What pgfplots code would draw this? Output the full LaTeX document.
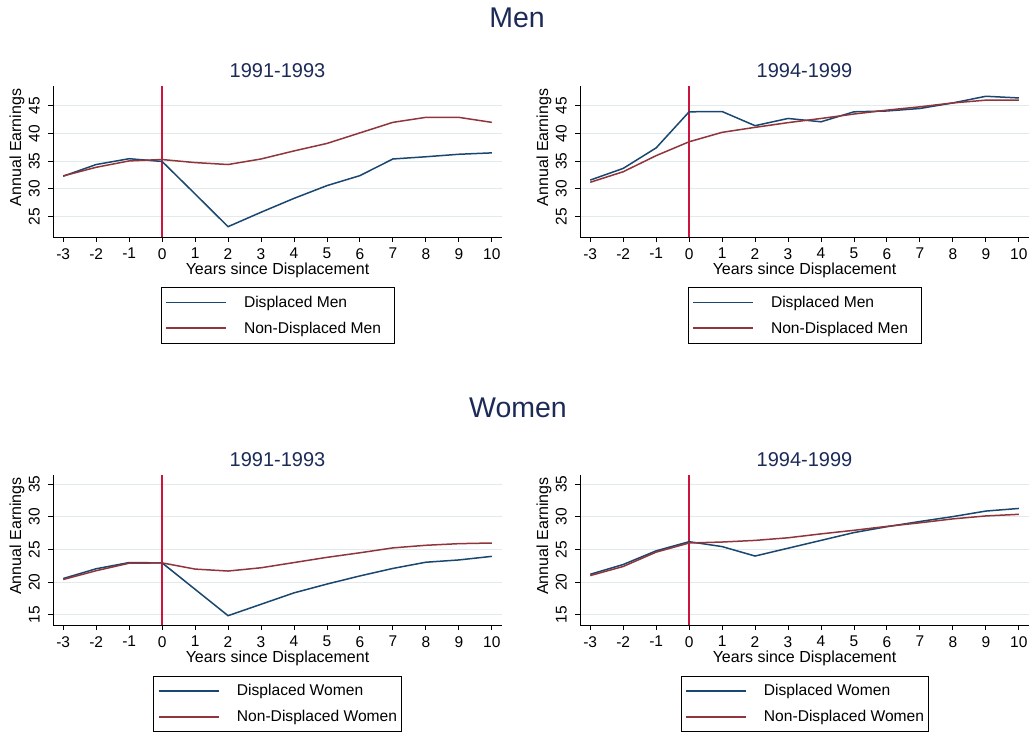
\documentclass[border=0pt]{standalone}
\usepackage{pgfplots}
\usepackage{pgfplotstable}
\pgfplotsset{compat=1.18}
\usepackage{fontspec}
\setmainfont{Liberation Sans}
\definecolor{sblue}{RGB}{26,71,111}
\definecolor{sred}{RGB}{144,53,59}
\definecolor{vline}{RGB}{205,20,60}
\definecolor{ttl}{RGB}{28,42,88}
\definecolor{grd}{RGB}{225,235,238}

\pgfplotstableread{
x dm nm
-3 32.3 32.35
-2 34.4 33.9
-1 35.45 35.05
0 34.95 35.3
1 29.1 34.75
2 23.2 34.4
3 25.8 35.4
4 28.3 36.85
5 30.6 38.2
6 32.4 40.1
7 35.4 42.0
8 35.8 42.9
9 36.25 42.9
10 36.5 42.0
}\menA
\pgfplotstableread{
x dm nm
-3 31.6 31.2
-2 33.7 33.1
-1 37.4 36.0
0 43.9 38.5
1 43.95 40.2
2 41.4 41.1
3 42.7 41.95
4 42.1 42.7
5 43.9 43.5
6 44.05 44.2
7 44.5 44.8
8 45.5 45.5
9 46.7 46.0
10 46.4 46.0
}\menB
\pgfplotstableread{
x dm nm
-3 20.55 20.4
-2 22.05 21.75
-1 23.0 22.9
0 22.95 22.95
1 18.9 22.0
2 14.85 21.7
3 16.6 22.2
4 18.35 23.0
5 19.7 23.8
6 20.95 24.5
7 22.1 25.25
8 23.05 25.65
9 23.4 25.9
10 23.95 26.0
}\womA
\pgfplotstableread{
x dm nm
-3 21.2 21.0
-2 22.7 22.4
-1 24.8 24.6
0 26.2 26.0
1 25.45 26.15
2 24.0 26.4
3 25.2 26.8
4 26.4 27.4
5 27.6 27.95
6 28.5 28.55
7 29.3 29.1
8 30.05 29.7
9 30.9 30.15
10 31.3 30.4
}\womB

\pgfplotsset{
  panel/.style={
    scale only axis, width=449pt,
    xmin=-3.31, xmax=10.31,
    axis x line*=bottom, axis y line*=left,
    axis line style={line width=0.9pt, -},
    xtick={-3,...,10},
    tick align=outside, major tick length=5pt,
    tick style={line width=0.9pt, black},
    ymajorgrids, grid style={grd, line width=0.9pt},
    /pgf/number format/assume math mode=true,
    ticklabel style={font=\fontsize{15.5}{18}\selectfont},
    yticklabel style={rotate=90, anchor=south, inner sep=0pt, inner ysep=8pt},
    xticklabel style={inner sep=0pt, inner ysep=6pt},
    label style={font=\fontsize{16}{18}\selectfont},
    xlabel={Years since Displacement},
    ylabel={Annual Earnings},
    xlabel style={at={(axis description cs:0.5,-0.22)}, anchor=center},
    ylabel style={at={(axis description cs:-0.080,0.593)}, anchor=center},
    title style={font=\fontsize{20}{22}\selectfont, text=ttl, anchor=center},
    legend cell align=left,
    legend image code/.code={\path[draw=none,fill=none] (0pt,-0.1pt) rectangle (83pt,0.1pt); \draw[##1] (5pt,0pt) -- (65pt,0pt);},
    legend style={anchor=north, draw=black, line width=0.9pt,
      font=\fontsize{15.6}{18}\selectfont,
      inner xsep=0pt, inner ysep=8.5pt, row sep=13pt,
      nodes={inner sep=0pt}},
  },
  dline/.style={sblue, line width=1.5pt, no markers},
  nline/.style={sred, line width=1.5pt, no markers},
  vl/.style={vline, line width=1.4pt, forget plot},
}

\begin{document}
\begin{tikzpicture}
\useasboundingbox (0pt,0pt) rectangle (1033pt,-734pt);
\node[text=ttl, font=\fontsize{28.5}{30}\selectfont] at (517pt,-18pt) {Men};
\node[text=ttl, font=\fontsize{28.5}{30}\selectfont] at (518pt,-407.5pt) {Women};

% Men 1991-1993
\begin{axis}[panel, at={(53pt,-237pt)}, anchor=south west, height=151pt,
  ymin=21.34, ymax=48.55, ytick={25,30,...,45},
  title={1991-1993}, title style={at={(axis description cs:0.5,1.063)}},
  legend style={at={(axis description cs:0.5,-0.331)}}]
\addplot[vl] coordinates {(0,21.34) (0,48.55)};
\addplot[dline] table[x=x,y=dm] {\menA};
\addplot[nline] table[x=x,y=nm] {\menA};
\addlegendentry{Displaced Men}
\addlegendentry{Non-Displaced Men\kern13pt}
\end{axis}

% Men 1994-1999
\begin{axis}[panel, at={(580pt,-237pt)}, anchor=south west, height=151pt,
  ymin=21.34, ymax=48.55, ytick={25,30,...,45},
  title={1994-1999}, title style={at={(axis description cs:0.5,1.063)}},
  legend style={at={(axis description cs:0.5,-0.331)}}]
\addplot[vl] coordinates {(0,21.34) (0,48.55)};
\addplot[dline] table[x=x,y=dm] {\menB};
\addplot[nline] table[x=x,y=nm] {\menB};
\addlegendentry{Displaced Men}
\addlegendentry{Non-Displaced Men\kern13pt}
\end{axis}

% Women 1991-1993
\begin{axis}[panel, at={(53pt,-625pt)}, anchor=south west, height=150pt,
  ymin=13.42, ymax=36.43, ytick={15,20,...,35},
  title={1991-1993}, title style={at={(axis description cs:0.5,1.06)}},
  legend style={at={(axis description cs:0.5,-0.338)}}]
\addplot[vl] coordinates {(0,13.42) (0,36.43)};
\addplot[dline] table[x=x,y=dm] {\womA};
\addplot[nline] table[x=x,y=nm] {\womA};
\addlegendentry{Displaced Women}
\addlegendentry{Non-Displaced Women\kern4pt}
\end{axis}

% Women 1994-1999
\begin{axis}[panel, at={(580pt,-625pt)}, anchor=south west, height=150pt,
  ymin=13.42, ymax=36.43, ytick={15,20,...,35},
  title={1994-1999}, title style={at={(axis description cs:0.5,1.06)}},
  legend style={at={(axis description cs:0.5,-0.338)}}]
\addplot[vl] coordinates {(0,13.42) (0,36.43)};
\addplot[dline] table[x=x,y=dm] {\womB};
\addplot[nline] table[x=x,y=nm] {\womB};
\addlegendentry{Displaced Women}
\addlegendentry{Non-Displaced Women\kern4pt}
\end{axis}
\end{tikzpicture}
\end{document}
